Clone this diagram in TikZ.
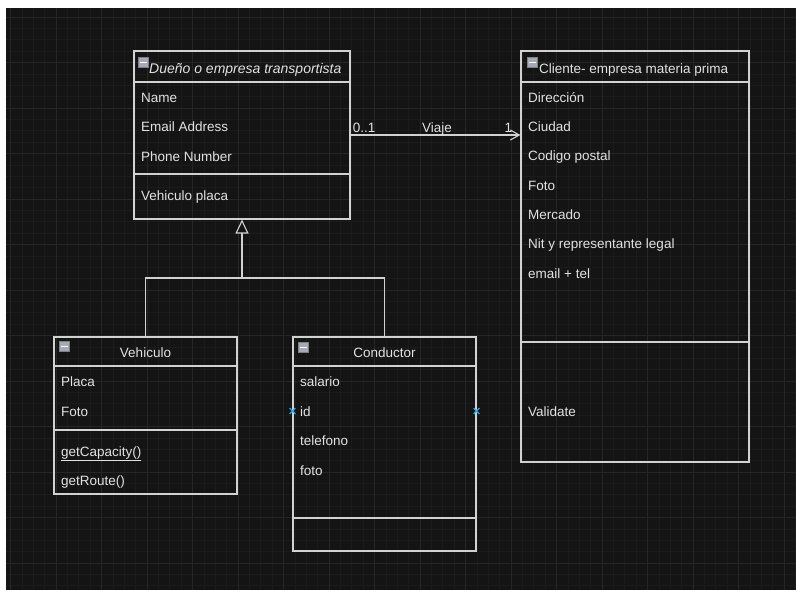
\documentclass[tikz,border=0pt]{standalone}
\usepackage{fontspec}
\setmainfont{Liberation Sans}
\usetikzlibrary{arrows.meta,positioning,calc,shapes.misc}
\definecolor{bgDark}{RGB}{20,20,20}
\definecolor{gridMinor}{RGB}{27,27,27}
\definecolor{gridMajor}{RGB}{38,38,38}
\definecolor{umlLine}{RGB}{210,210,210}
\definecolor{umlText}{RGB}{226,226,226}
\definecolor{iconFill}{RGB}{165,170,180}
\definecolor{handleBlue}{RGB}{40,168,226}

\begin{document}
\begin{tikzpicture}[x=1pt, y=-1pt, >={Straight Barb[length=9pt,width=10pt]},
    every node/.style={font=\fontsize{13.5}{16}\selectfont, text=umlText},
    umlbox/.style={draw=umlLine, line width=1.1pt, inner sep=0pt},
    sep/.style={draw=umlLine, line width=1.1pt},
    attr/.style={anchor=base west, inner sep=0pt},
    title/.style={anchor=base, inner sep=0pt},
    icon/.style={draw=gray, fill=iconFill, minimum size=10pt, inner sep=0pt, line width=0.5pt,
      path picture={\draw[white, line width=1.4pt] ([xshift=1.5pt]path picture bounding box.west) -- ([xshift=-1.5pt]path picture bounding box.east);}},
    handle/.style={cross out, draw=handleBlue, minimum size=4.5pt, inner sep=0pt, line width=1.3pt}]
      \useasboundingbox (0,0) rectangle (796,590);
      % canvas with grid
      \fill[white] (0,0) rectangle (796,590);
      \fill[bgDark] (6,8) rectangle (796,590);
      \begin{scope}
        \clip (6,8) rectangle (796,590);
        \foreach \k in {0,...,69} \draw[gridMinor, line width=0.6pt] ({10.5+11.375*\k},8) -- ++(0,582);
        \foreach \k in {-1,...,51} \draw[gridMinor, line width=0.6pt] (6,{17+11.375*\k}) -- ++(790,0);
        \foreach \k in {0,...,17} \draw[gridMajor, line width=0.8pt] ({10.5+45.5*\k},8) -- ++(0,582);
        \foreach \k in {0,...,12} \draw[gridMajor, line width=0.8pt] (6,{17+45.5*\k}) -- ++(790,0);
      \end{scope}

      % owner class
      \node[umlbox, minimum width=216pt, minimum height=168pt] (owner) at (242,135) {};
      \draw[sep] (owner.west |- 0,82) -- (owner.east |- 0,82);
      \draw[sep] (owner.west |- 0,174) -- (owner.east |- 0,174);
      \node[icon] (ownerIcon) at (143.5,62.5) {};
      \node[attr, font=\fontsize{14}{16}\selectfont\itshape] (ownerTitle) at (149,73) {Dueño o empresa transportista};
      \foreach \t [count=\i] in {Name, Email Address, Phone Number}
        \node[attr] (ownerA\i) at (141,{72.5+29.5*\i}) {\t};
      \node[attr] (ownerM1) at (141,200) {Vehiculo placa};

      % client class
      \node[umlbox, minimum width=228pt, minimum height=411pt] (client) at (635,256.5) {};
      \draw[sep] (client.west |- 0,82) -- (client.east |- 0,82);
      \draw[sep] (client.west |- 0,342) -- (client.east |- 0,342);
      \node[icon] (clientIcon) at (532,62.5) {};
      \node[attr] (clientTitle) at (539,73) {Cliente- empresa materia prima};
      \foreach \t [count=\i] in {Dirección, Ciudad, Codigo postal, Foto, Mercado, Nit y representante legal, email + tel}
        \node[attr] (clientA\i) at (528,{72.7+29.35*\i}) {\t};
      \node[attr] (clientM1) at (528,416.5) {Validate};

      % vehicle class
      \node[umlbox, minimum width=183pt, minimum height=157pt] (vehicle) at (145.5,415.5) {};
      \draw[sep] (vehicle.west |- 0,366) -- (vehicle.east |- 0,366);
      \draw[sep] (vehicle.west |- 0,430) -- (vehicle.east |- 0,430);
      \node[icon] (vehicleIcon) at (64,346.5) {};
      \node[title] (vehicleTitle) at (145.5,357) {Vehiculo};
      \node[attr] (vehicleA1) at (61,386.5) {Placa};
      \node[attr] (vehicleA2) at (61,416) {Foto};
      \node[attr] (vehicleM1) at (61,456) {\underline{getCapacity()}};
      \node[attr] (vehicleM2) at (61,485.5) {getRoute()};

      % driver class
      \node[umlbox, minimum width=183pt, minimum height=214pt] (driver) at (384.5,444) {};
      \draw[sep] (driver.west |- 0,366) -- (driver.east |- 0,366);
      \draw[sep] (driver.west |- 0,518) -- (driver.east |- 0,518);
      \node[icon] (driverIcon) at (303.5,347.5) {};
      \node[title] (driverTitle) at (384.5,357) {Conductor};
      \foreach \t [count=\i] in {salario, id, telefono, foto}
        \node[attr] (driverA\i) at (300,{357+29.5*\i}) {\t};
      \node[handle] (driverHL) at (driver.west |- 0,411) {};
      \node[handle] (driverHR) at (driver.east |- 0,411) {};

      % association owner -> client
      \draw[->, umlLine, line width=1.1pt] (owner.east) -- (owner.east -| client.west);
      \node[attr] (multOwner) at ([shift={(2,-3)}]owner.east) {0..1};
      \node[title] (assocName) at (437,132) {Viaje};
      \node[anchor=base east, inner sep=0pt] (multClient) at ([shift={(-8,-3)}]owner.east -| client.west) {1};

      % generalization vehicle, driver -> owner
      \coordinate (split) at (owner.south |- 0,278);
      \draw[umlLine, line width=1.1pt] (vehicle.north) |- (split) -| (driver.north);
      \draw[-{Triangle[open, length=14pt, width=13pt, fill=bgDark]}, umlLine, line width=1.1pt] (split) -- (owner.south);
    \end{tikzpicture}
\end{document}
